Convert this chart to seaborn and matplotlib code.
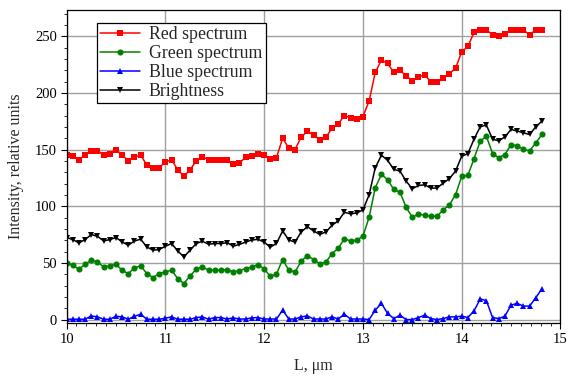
import numpy as np
import pandas as pd
import matplotlib
matplotlib.use("Agg")
import matplotlib.pyplot as plt
import seaborn as sns
from matplotlib.ticker import MultipleLocator

# Scan positions along the sample, µm (sampling step 1/16 µm)
position = 10 + np.arange(78) / 16

red = [145.3, 144.1, 140.9, 145.3, 149.1, 149.1, 145.3, 146.2, 150, 145.3, 140, 143.2, 145.3,
       136.2, 134.1, 134.1, 139.1, 140.9, 132.4, 126.5, 132.1, 140, 143.8, 140.9, 140.9, 140.9,
       141, 137.4, 138.2, 143.2, 144.1, 146.2, 145.3, 141.8, 142.9, 160, 151.2, 150, 160.9,
       166.2, 162.9, 158.8, 160.9, 168.8, 172.6, 180, 177.9, 177.1, 179.1,
       192.8, 218, 229, 226, 218, 220, 215, 210.8, 213.8, 216.2, 209.6, 209.6, 212.9, 217,
       221.6, 236.2, 241, 253.3, 255.4, 255.4, 251.5, 250, 252.4, 255.4, 255.4, 255.4, 251.5,
       255.4, 255.4]

green = [50.3, 47.9, 44.4, 48.8, 52.4, 50.9, 46.5, 47.4, 48.8, 43.5, 40.6, 45.6, 47.4,
         40.6, 37.1, 40.6, 42.1, 43.5, 36.2, 31.8, 38.5, 44.4, 46.5, 43.5, 43.5, 43.5,
         44.1, 42, 43.2, 45, 46.4, 48.5, 44.7, 38.1, 40.2, 53, 43.5, 42, 51.5,
         56.5, 53, 49.4, 50.6, 58.3, 62.8, 71.4, 69.3, 70.2, 73.5,
         90.2, 116.3, 128.1, 123.4, 114.8, 112.4, 99.1, 90.2, 93.2, 92, 91.1, 91.1, 96.7, 101.2,
         110.1, 126.3, 127.2, 142, 157.4, 161.8, 146.4, 142.9, 145.6, 154.4, 153.3, 150.3, 148.8,
         155.9, 163.3]

blue = [0.3, 0.3, 0.3, 0.3, 3.2, 2.4, 0.3, 0.3, 2.9, 2.4, 0.3, 2.9, 4.7,
        0.3, 0.3, 0.3, 1.2, 2.4, 0.3, 0.3, 0.3, 1.8, 2.4, 0.3, 1.8, 1.8,
        0.5, 1.5, 0.5, 0.5, 1.5, 1.8, 0.5, 0.5, 0.5, 8.3, 0.5, 0.5, 2.4,
        3.3, 0.5, 0.5, 0.5, 2.4, 0.5, 4.7, 0.5, 0.5, 0.5,
        0, 8.3, 14.3, 5.4, 0.9, 3.9, 0, 0, 1.8, 3.9, 0.9, 0, 0.9, 2.4,
        2.4, 3, 1.8, 7.7, 18.2, 16.7, 1.8, 0.9, 3, 12.8, 14.3, 11.9, 11.9,
        19.3, 27.1]

brightness = [72.4, 70.6, 67.6, 70.6, 75, 73.5, 69.4, 70.6, 72.4, 68.5, 65.6, 69.4, 70.9,
              64.1, 61.2, 61.8, 64.7, 67.1, 60.6, 55.3, 61.2, 67.1, 69.1, 66.5, 67.1, 67.1,
              67.8, 64.8, 66.3, 68.4, 70.2, 70.8, 68.4, 63.9, 67.2, 78.2, 70.2, 68.4, 77.3,
              82, 78.2, 75.2, 77.3, 83.2, 87.1, 94.7, 93.2, 94.1, 96.7,
              110, 134, 145, 140.5, 132.5, 131, 122.2, 115.4, 118.3, 118.9, 116, 116, 120.4, 124.3,
              131, 144.1, 146.4, 159.2, 170.1, 171.6, 159.2, 157.7, 161.2, 167.8, 166.3, 164.8, 163.3,
              170.1, 175.1]

series_names = ["Red spectrum", "Green spectrum", "Blue spectrum", "Brightness"]
series_values = [red, green, blue, brightness]
series_colors = ["#ff0000", "#008000", "#0000ff", "#000000"]
series_markers = ["s", "o", "^", "v"]

sns.set_theme(style="ticks")
plt.rcParams["font.family"] = ["Liberation Serif", "DejaVu Serif"]

fig, ax = plt.subplots(figsize=(5.69, 3.76), dpi=100)
fig.subplots_adjust(left=0.117, right=0.985, top=0.973, bottom=0.141)

for name, vals, col, mk in zip(series_names, series_values, series_colors, series_markers):
    df = pd.DataFrame({"L": position, "I": vals})
    sns.lineplot(data=df, x="L", y="I", ax=ax, color=col, marker=mk, markersize=4.4,
                 markeredgewidth=0, linewidth=1.1, label=name)

ax.set_xlim(10, 15)
ax.set_ylim(-3, 273)
ax.xaxis.set_major_locator(MultipleLocator(1))
ax.xaxis.set_minor_locator(MultipleLocator(0.1))
ax.yaxis.set_major_locator(MultipleLocator(50))
ax.yaxis.set_minor_locator(MultipleLocator(10))
ax.grid(True, which="major", color="#a0a0a0", linewidth=1.0)
ax.set_axisbelow(True)

ax.tick_params(axis="both", which="major", direction="out", length=4, width=0.8,
               labelsize=10.5, colors="black", pad=3)
ax.tick_params(axis="both", which="minor", direction="out", length=2.5, width=0.7)
for s in ax.spines.values():
    s.set_color("black")
    s.set_linewidth(0.9)

ax.set_xlabel("L, μm", fontsize=11.5, labelpad=9)
ax.set_ylabel("Intensity, relative units", fontsize=11.5, labelpad=8)

leg = ax.legend(loc="upper left", bbox_to_anchor=(0.0613, 0.958), fontsize=12.8,
                frameon=True, fancybox=False, handlelength=2.25, handletextpad=0.5,
                labelspacing=0.1, borderpad=0.18, borderaxespad=0)
leg.get_frame().set_edgecolor("black")
leg.get_frame().set_linewidth(0.9)
leg.get_frame().set_alpha(1)

fig.savefig("out.png", dpi=100)
